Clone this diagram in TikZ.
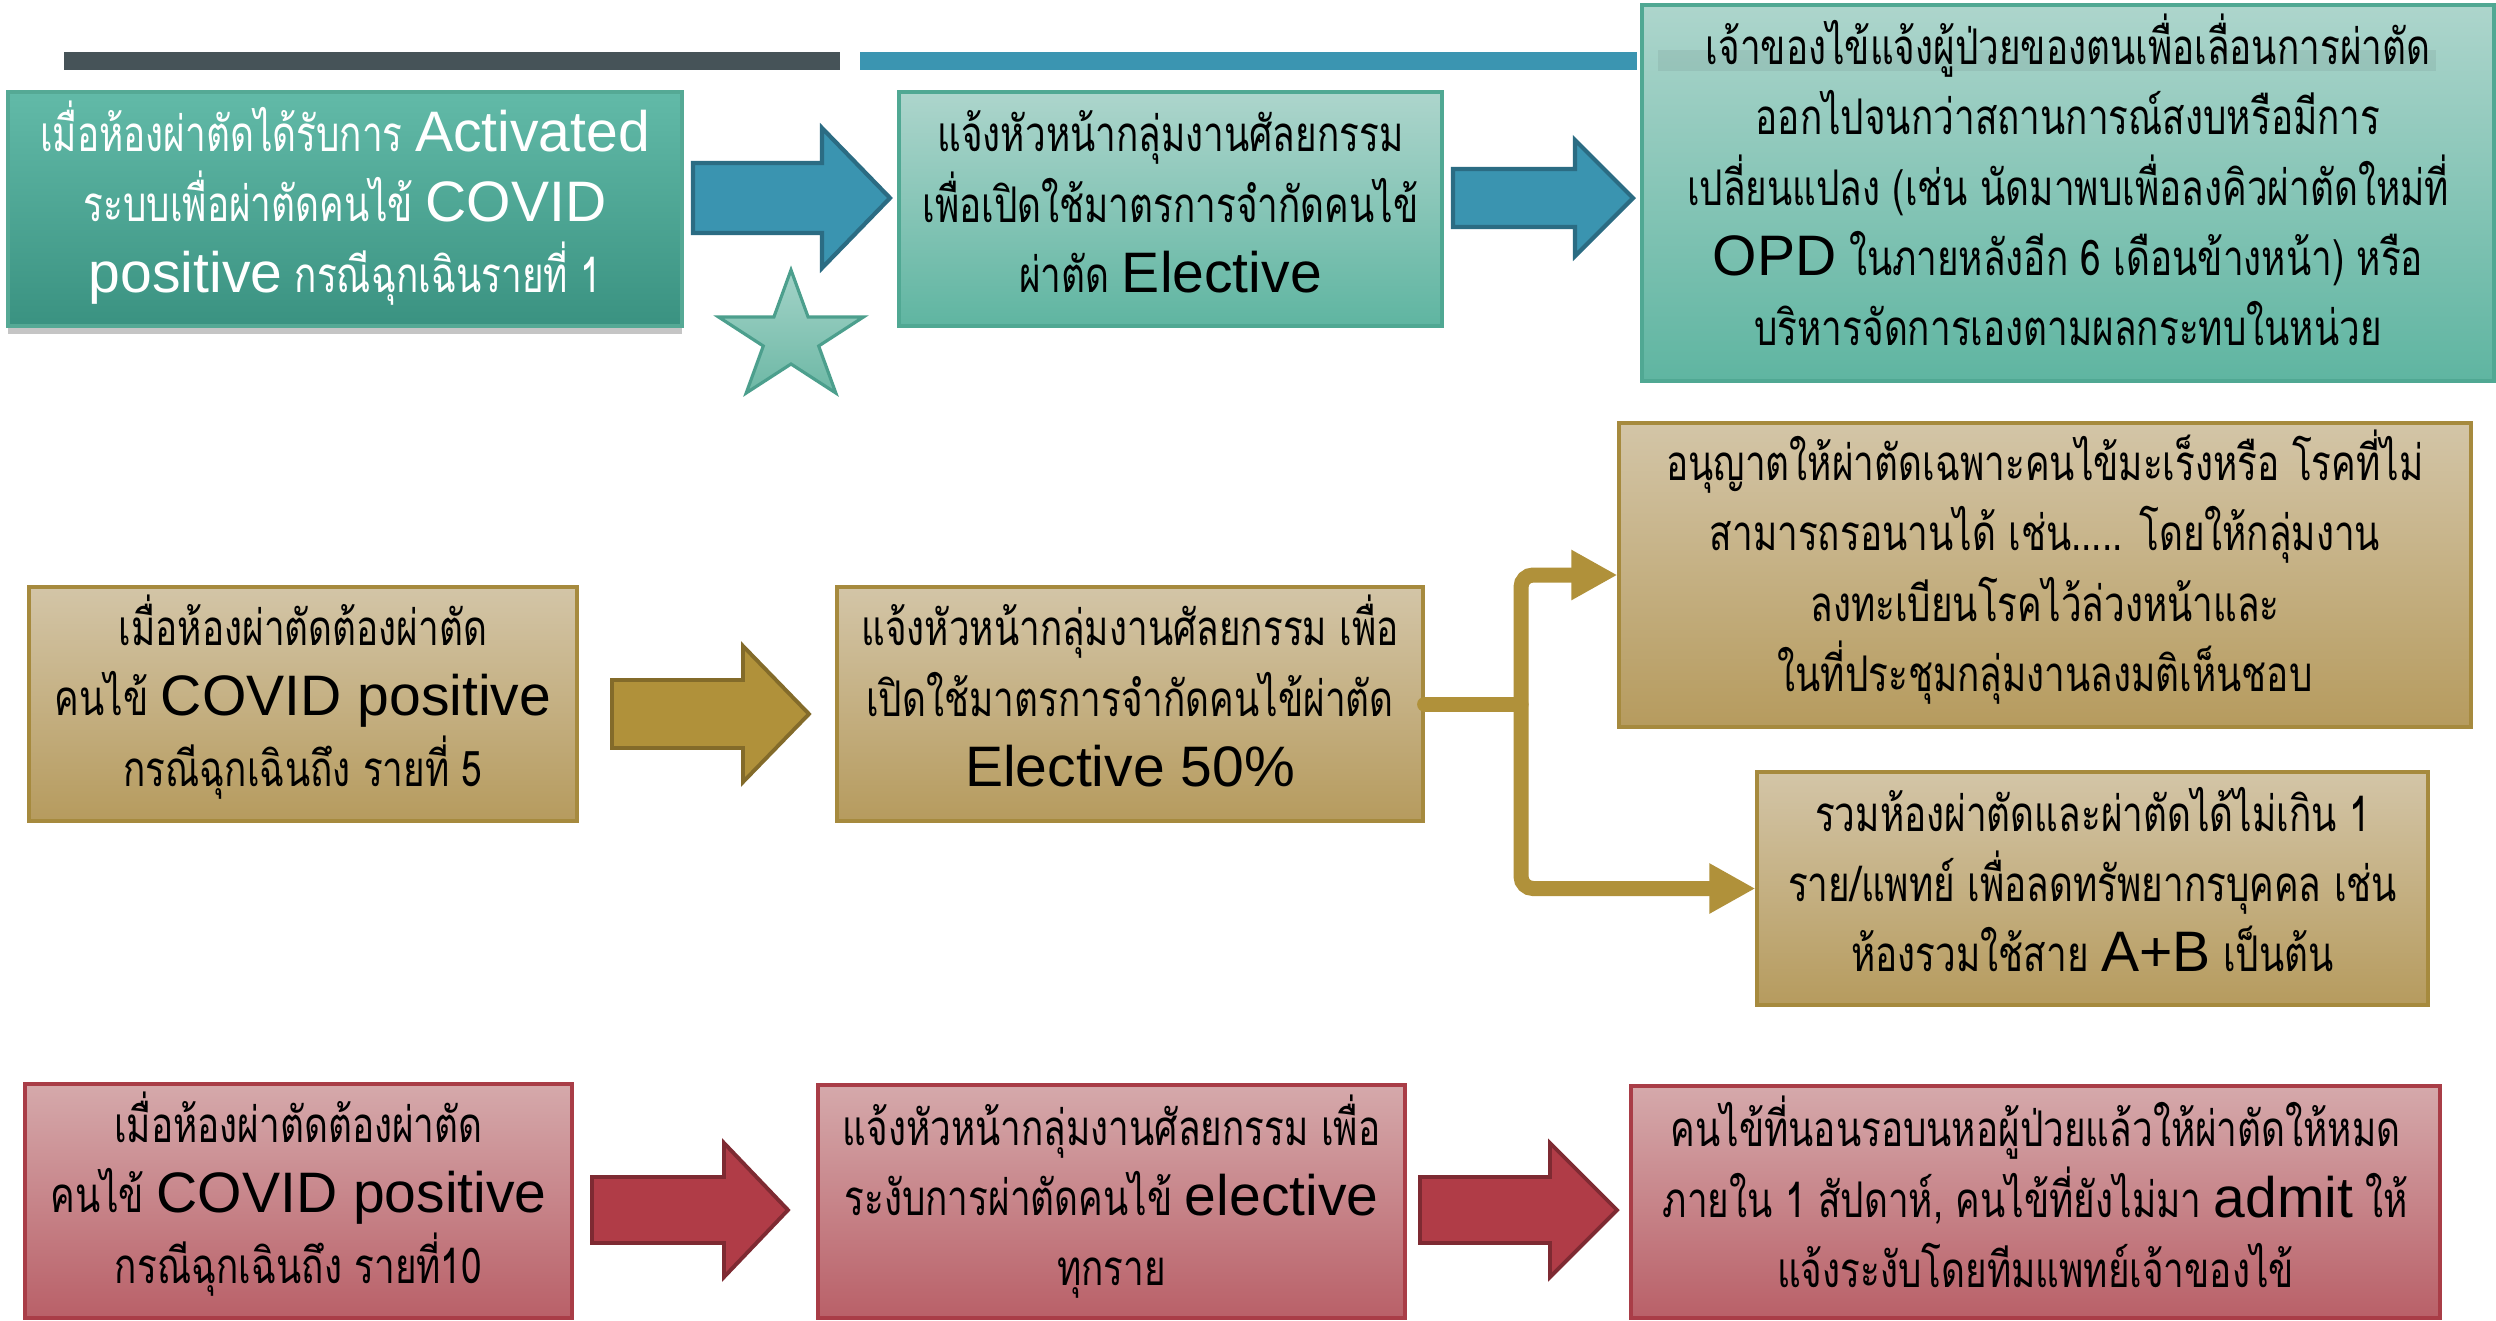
\documentclass[tikz,border=0pt]{standalone}
\usepackage{fontspec}
\setmainfont{Liberation Sans}
\newfontfamily\thaifont[Script=Thai, FakeStretch=0.75]{Loma}
\newfontfamily\latfont[Scale=1.16]{Liberation Sans}
\newcommand\EnTxt[1]{{\latfont #1}}
\usetikzlibrary{shadows,arrows.meta}
\definecolor{barDark}{HTML}{465358}
\definecolor{barBlue}{HTML}{3B95B1}
\definecolor{tdTop}{HTML}{62BAA8}
\definecolor{tdBot}{HTML}{3A9281}
\definecolor{tdLine}{HTML}{55A995}
\definecolor{tTop}{HTML}{ADD5CC}
\definecolor{tBot}{HTML}{5FB5A1}
\definecolor{tLine}{HTML}{50A893}
\definecolor{gTop}{HTML}{D3C5A7}
\definecolor{gBot}{HTML}{B69B5E}
\definecolor{gLine}{HTML}{A68A3E}
\definecolor{gArrow}{HTML}{B0913A}
\definecolor{gArrowLine}{HTML}{836B2A}
\definecolor{rTop}{HTML}{D5A9AB}
\definecolor{rBot}{HTML}{B96068}
\definecolor{rLine}{HTML}{A93D47}
\definecolor{rArrow}{HTML}{B03C47}
\definecolor{rArrowLine}{HTML}{7E2A32}
\definecolor{bArrow}{HTML}{3A94B0}
\definecolor{bArrowLine}{HTML}{2B6C83}
\definecolor{starTop}{HTML}{A3D3C8}
\definecolor{starBot}{HTML}{6DB8A5}
\definecolor{starLine}{HTML}{4C9F8D}
\newcommand\blockarr[7]{%
  \draw[#1] (#2,#5-#6) -- (#3,#5-#6) -- (#3,#5-#7) -- (#4,#5) -- (#3,#5+#7) -- (#3,#5+#6) -- (#2,#5+#6) -- cycle;}
\tikzset{
  box/.style={draw, line width=0.9pt, inner sep=0pt},
  txt/.style={align=center, inner sep=0pt, font=\thaifont\fontsize{14pt}{20pt}\selectfont},
  tealdark/.style={box, top color=tdTop, bottom color=tdBot, draw=tdLine,
    drop shadow={shadow xshift=0mm, shadow yshift=-0.8mm, opacity=0.45}},
  tealbox/.style={box, top color=tTop, bottom color=tBot, draw=tLine},
  goldbox/.style={box, top color=gTop, bottom color=gBot, draw=gLine},
  redbox/.style={box, top color=rTop, bottom color=rBot, draw=rLine},
  bluearr/.style={fill=bArrow, draw=bArrowLine, line width=1.2pt},
  goldarr/.style={fill=gArrow, draw=gArrowLine, line width=1.1pt},
  redarr/.style={fill=rArrow, draw=rArrowLine, line width=1.1pt},
  conn/.style={draw=gArrow, line width=1.5mm, rounded corners=1.2mm,
    -{Triangle[width=4.7mm,length=4.6mm]}},
}
\begin{document}
\begin{tikzpicture}[x=0.1mm, y=-0.1mm]
\useasboundingbox (0,0) rectangle (2496,1320);
\fill[white] (0,0) rectangle (2496,1320);
% bars
\fill[barDark] (64,52) rectangle (840,70);
\fill[barBlue] (860,52) rectangle (1637,70);
% row 1
\node[tealdark, minimum width=67.4mm, minimum height=23.4mm] (b1) at (345,209) {};
\node[txt, text=white] (t1) at ([yshift=0.6mm]b1.center)
  {เมื่อห้องผ่าตัดได้รับการ \EnTxt{Activated}\\ระบบเพื่อผ่าตัดคนไข้ \EnTxt{COVID}\\\EnTxt{positive} กรณีฉุกเฉินรายที่ 1};
\node[tealbox, minimum width=54.3mm, minimum height=23.4mm] (b2) at (1170.5,209) {};
\node[txt] (t2) at ([yshift=0.7mm]b2.center)
  {แจ้งหัวหน้ากลุ่มงานศัลยกรรม\\เพื่อเปิดใช้มาตรการจำกัดคนไข้\\ผ่าตัด \EnTxt{Elective}};
\node[tealbox, minimum width=85.2mm, minimum height=37.6mm] (b3) at (2068,193) {};
\node[txt] (t3) at ([yshift=1.3mm]b3.center)
  {เจ้าของไข้แจ้งผู้ป่วยของตนเพื่อเลื่อนการผ่าตัด\\ออกไปจนกว่าสถานการณ์สงบหรือมีการ\\เปลี่ยนแปลง (เช่น นัดมาพบเพื่อลงคิวผ่าตัดใหม่ที่\\\EnTxt{OPD} ในภายหลังอีก 6 เดือนข้างหน้า) หรือ\\บริหารจัดการเองตามผลกระทบในหน่วย};
\fill[black, opacity=0.06] (1658,50) rectangle (2436,71);
\blockarr{bluearr}{693}{822}{890}{198}{35}{70}
\blockarr{bluearr}{1453}{1575}{1633}{198}{29}{58}
\draw[top color=starTop, bottom color=starBot, draw=starLine, line width=0.9pt]
  (791,270) -- (773.9,317) -- (718.6,317) -- (763.3,346) -- (746.2,393) -- (791,364)
  -- (835.8,393) -- (818.7,346) -- (863.4,317) -- (808.1,317) -- cycle;
% row 2
\node[goldbox, minimum width=54.8mm, minimum height=23.4mm] (b4) at (303,704) {};
\node[txt] (t4) at ([yshift=0.7mm]b4.center)
  {เมื่อห้องผ่าตัดต้องผ่าตัด\\คนไข้ \EnTxt{COVID positive}\\กรณีฉุกเฉินถึง รายที่ 5};
\node[goldbox, minimum width=58.6mm, minimum height=23.4mm] (b5) at (1130,704) {};
\node[txt] (t5) at ([yshift=1.3mm]b5.center)
  {แจ้งหัวหน้ากลุ่มงานศัลยกรรม เพื่อ\\เปิดใช้มาตรการจำกัดคนไข้ผ่าตัด\\\EnTxt{Elective 50\%}};
\node[goldbox, minimum width=85.2mm, minimum height=30.4mm] (b6) at (2045,575) {};
\node[txt] (t6) at ([yshift=0.8mm]b6.center)
  {อนุญาตให้ผ่าตัดเฉพาะคนไข้มะเร็งหรือ โรคที่ไม่\\สามารถรอนานได้ เช่น..... โดยให้กลุ่มงาน\\ลงทะเบียนโรคไว้ล่วงหน้าและ\\ในที่ประชุมกลุ่มงานลงมติเห็นชอบ};
\node[goldbox, minimum width=67.1mm, minimum height=23.3mm] (b7) at (2092.5,888.5) {};
\node[txt] (t7) at ([yshift=0.9mm]b7.center)
  {รวมห้องผ่าตัดและผ่าตัดได้ไม่เกิน 1\\ราย/แพทย์ เพื่อลดทรัพยากรบุคคล เช่น\\ห้องรวมใช้สาย \EnTxt{A+B} เป็นต้น};
\blockarr{goldarr}{612}{743}{809}{714}{34}{68}
\coordinate (split) at (1521,704);
\draw[conn] (split) |- (b6.west);
\draw[conn] (split) |- (b7.west);
\draw[draw=gArrow, line width=1.5mm, line cap=round] (b5.east) -- (split);
% row 3
\node[redbox, minimum width=54.7mm, minimum height=23.4mm] (b8) at (298.5,1201) {};
\node[txt] (t8) at ([yshift=0.7mm]b8.center)
  {เมื่อห้องผ่าตัดต้องผ่าตัด\\คนไข้ \EnTxt{COVID positive}\\กรณีฉุกเฉินถึง รายที่10};
\node[redbox, minimum width=58.7mm, minimum height=23.3mm] (b9) at (1111.5,1201.5) {};
\node[txt] (t9) at ([yshift=0.5mm]b9.center)
  {แจ้งหัวหน้ากลุ่มงานศัลยกรรม เพื่อ\\ระงับการผ่าตัดคนไข้ \EnTxt{elective}\\ทุกราย};
\node[redbox, minimum width=80.9mm, minimum height=23.2mm] (b10) at (2035.5,1202) {};
\node[txt] (t10) at ([yshift=1.0mm]b10.center)
  {คนไข้ที่นอนรอบนหอผู้ป่วยแล้วให้ผ่าตัดให้หมด\\ภายใน 1 สัปดาห์, คนไข้ที่ยังไม่มา \EnTxt{admit} ให้\\แจ้งระงับโดยทีมแพทย์เจ้าของไข้};
\blockarr{redarr}{592}{724}{788}{1210}{33}{67}
\blockarr{redarr}{1420}{1550}{1617}{1210}{33}{67}
\end{tikzpicture}
\end{document}
